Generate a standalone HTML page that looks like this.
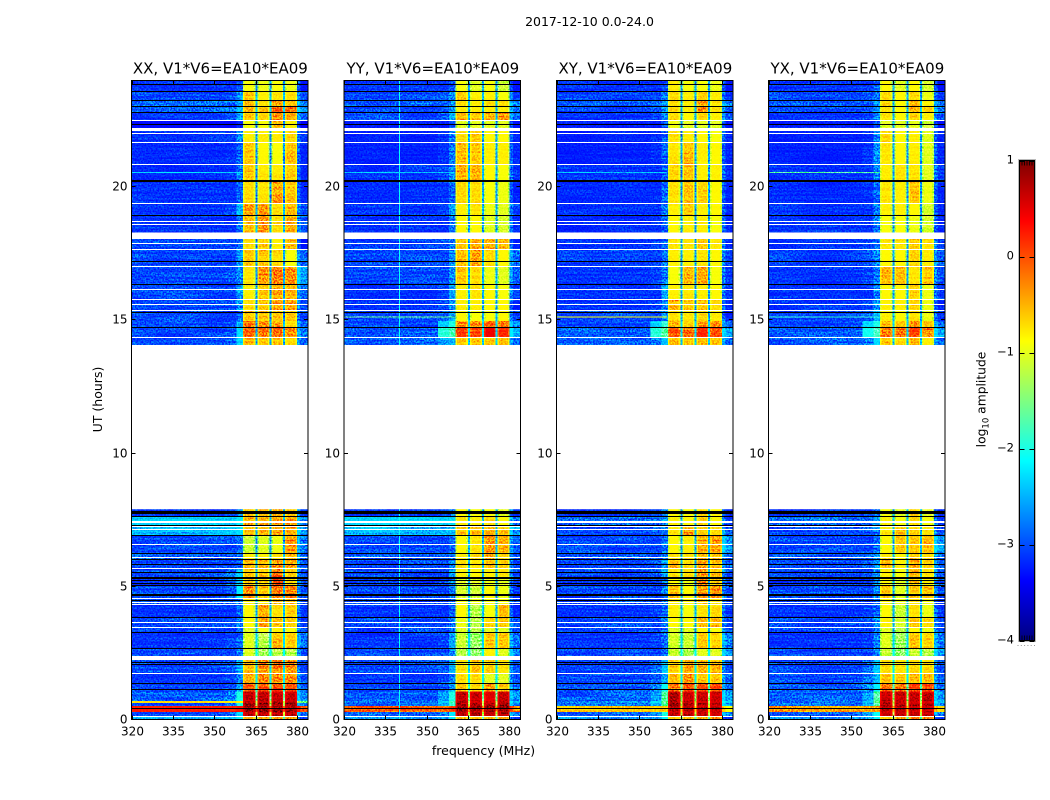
<!DOCTYPE html>
<html lang="en">
<head>
<meta charset="utf-8">
<title>2017-12-10 spectrogram</title>
<style>
html,body{margin:0;padding:0;background:#fff;}
#figure{display:block;width:1050px;height:800px;font-family:"DejaVu Sans","Liberation Sans",sans-serif;fill:#000;}
.tick-label{font-size:12px;}
.panel-title{font-size:15px;}
</style>
</head>
<body>
<svg id="figure" xmlns="http://www.w3.org/2000/svg" width="1050" height="800" viewBox="0 0 1050 800">
<defs>
<filter id="speckle" x="0" y="0" width="100%" height="100%" color-interpolation-filters="sRGB">
<feTurbulence type="fractalNoise" baseFrequency="0.62" numOctaves="1" seed="7"/>
<feColorMatrix type="matrix" values="3 0 0 0 -1  3 0 0 0 -1  3 0 0 0 -1  0 0 0 0 1"/>
</filter>
<filter id="streaks" x="0" y="0" width="100%" height="100%" color-interpolation-filters="sRGB">
<feTurbulence type="fractalNoise" baseFrequency="0.02 0.55" numOctaves="1" seed="11"/>
<feColorMatrix type="matrix" values="3 0 0 0 -1  3 0 0 0 -1  3 0 0 0 -1  0 0 0 0 1"/>
</filter>
</defs>
<text x="589.5" y="26" text-anchor="middle" font-size="12.5">2017-12-10 0.0-24.0</text>
<text transform="translate(102,399.5) rotate(-90)" text-anchor="middle" font-size="12.5">UT (hours)</text>
<text x="483.5" y="755" text-anchor="middle" font-size="12.5">frequency (MHz)</text>
<text transform="translate(985.5,399.5) rotate(-90)" text-anchor="middle" font-size="12.3">log<tspan font-size="8.5" dy="3">10</tspan><tspan dy="-3"> amplitude</tspan></text>
<g id="panels"></g>
<g id="colorbar"></g>
</svg>
<script>
var panelNames = ["XX, V1*V6=EA10*EA09","YY, V1*V6=EA10*EA09","XY, V1*V6=EA10*EA09","YX, V1*V6=EA10*EA09"];
var xTicks = [320,335,350,365,380];
var yTicks = [0,5,10,15,20];
var colorbarTicks = [1,0,-1,-2,-3,-4];
var tickText = {"1":"1","0":"0","-1":"\u22121","-2":"\u22122","-3":"\u22123","-4":"\u22124"};

// time spans (UT hours) of the averaged rows
var rowHours = [[24,23.58],[23.58,23.23],[23.23,22.99],[22.99,22.76],[22.76,22.47],[22.47,22.19],[22.09,21.66],[21.66,20.82],[20.82,20.23],[20.23,19.37],[19.37,18.92],[18.92,18.27],[18.04,17.64],[17.64,17],[17,16.33],[16.33,15.77],[15.77,15.36],[15.36,14.95],[14.95,14.7],[14.7,14.33],[14.33,14.05],[7.89,7.6],[7.6,7.27],[7.27,6.89],[6.89,6.26],[6.26,5.99],[5.99,5.68],[5.68,5.31],[5.31,5.01],[5.01,4.54],[4.54,4.32],[4.32,3.82],[3.82,3.45],[3.45,3.25],[3.25,2.67],[2.67,2.39],[2.24,1.74],[1.74,1.34],[1.34,1.05],[1.05,0.69],[0.69,0.61],[0.61,0.5],[0.5,0.28],[0.28,0.13],[0.13,0]];

// frequency channels (MHz), the value column each reads, and its bandpass gain (dex)
var channelRanges = [[320,354],[354,358],[358,360.4],[360.4,361],[361,364.3],[364.3,364.9],[364.9,365.6],[365.6,366.2],[366.2,369.5],[369.5,370],[370,370.7],[370.7,371.3],[371.3,374.5],[374.5,375],[375,375.7],[375.7,376.2],[376.2,379.5],[379.5,380],[380,381.2],[381.2,384]];
var channelColumn = [0,1,2,3,3,3,7,4,4,4,7,5,5,5,7,6,6,6,8,8];
var channelGain = [-0.03,-0.05,0,-0.3,0,-0.25,-0.3,-0.25,0,-0.25,-0.3,-0.25,0,-0.25,-0.3,-0.25,0,-0.25,0,-0.3];

// log10 amplitude per row: below-band A,B,C, band 1-4, band gaps, above-band
var valuesXX = [
[-3.1,-3.1,-3,-.9,-.95,-.9,-.95,-2.4,-3],[-3,-2.9,-2.6,-.6,-.8,-.7,-.7,-2.2,-2.7],[-2.8,-2.8,-2.5,-.55,-.7,-.3,-.5,-2.2,-2.5],[-2.9,-2.8,-2.5,-.5,-.6,-.1,-.15,-2,-2.3],[-3.1,-3,-2.6,-.6,-.7,-.4,-.5,-2.2,-2.6],[-3.3,-3.3,-3.2,-.9,-.9,-.55,-.8,-2.4,-3.1],[-3.1,-3.1,-2.8,-.8,-.8,-.8,-.7,-2.3,-2.8],[-3.15,-3.1,-2.9,-.6,-.85,-.9,-.55,-2.4,-2.9],[-3.15,-3.1,-2.8,-.6,-.75,-.75,-.6,-2.4,-2.9],[-3.1,-3.1,-2.9,-.7,-.75,-.45,-.6,-2.4,-2.9],[-3.1,-3,-2.5,-.4,-.35,-.7,-.5,-2.2,-2.7],[-3.1,-3.1,-2.8,-.55,-.3,-.7,-.45,-2.2,-2.7],[-3,-3,-2.9,-.7,-.6,-.8,-.5,-2.4,-3],[-3,-3,-2.6,-.6,-.6,-.7,-.9,-2.3,-2.6],[-3,-2.9,-2.7,-.75,-.35,-.2,-.3,-2.3,-2.3],[-3,-3,-2.6,-.8,-.6,-.45,-.5,-2.3,-2.6],[-3,-3,-2.7,-.7,-.6,-.4,-.4,-2.3,-2.7],[-3,-3,-2.8,-.6,-.6,-.6,-.6,-2.4,-2.8],[-3,-2.9,-2.5,-.15,-.3,-.35,-.7,-2.2,-2.6],[-3,-2.9,-2.3,-.1,-.2,-.1,-.3,-2.2,-2.5],[-3,-2.9,-2.3,-.5,-.6,-.6,-.7,-2.2,-2.6],
[-3.1,-3,-2.6,-.6,-.6,-.5,-.6,-2.2,-2.8],[-2.3,-2.3,-2.2,-.5,-.5,-.4,-.4,-2.2,-2.4],[-2.45,-2.4,-2.3,-.55,-.55,-.5,-.5,-2.2,-2.3],[-3,-3,-2.9,-1.1,-1,-.95,-.35,-2.3,-2.5],[-2.9,-2.9,-2.8,-.8,-.8,-.7,-.5,-2.2,-2.6],[-3,-3,-2.9,-.5,-.5,-.3,-.4,-2.2,-2.6],[-3,-2.8,-2.4,-.6,-.6,-.2,-.6,-2.2,-2.7],[-3.1,-2.9,-2.4,-.6,-.7,-.1,-.7,-2.2,-2.7],[-3,-2.9,-2.2,-.3,-.6,-.2,-.25,-2.2,-2.7],[-3,-3,-2.8,-.8,-.8,-.6,-.6,-2.2,-2.8],[-3.1,-3.1,-2.9,-.85,-.45,-.7,-.6,-2.2,-2.8],[-3,-3,-2.8,-.85,-.45,-.6,-.65,-2.2,-2.8],[-3,-3,-2.8,-1,-.9,-.8,-.9,-2.2,-2.7],[-3.1,-3,-2.9,-1,-1.2,-.5,-.6,-2,-2.5],[-3,-3,-2.8,-1,-1.3,-1.2,-1.2,-1.8,-2.7],[-3,-2.9,-2.5,-.55,-.35,-.3,-.35,-2,-2.8],[-3.1,-3,-2.8,-.45,-.25,-.25,-.25,-1.9,-2.7],[-3,-2.9,-2.5,-.05,0,.05,0,-1.7,-2.6],[-2.9,-2.7,-2,.7,.7,.65,.65,-1.3,-2.4],[-.7,-.7,-.8,.75,.7,.7,.7,-.8,-1.3],[-3,-2.7,-2,.85,.85,.85,.85,-1,-2.5],[.3,.3,.3,.85,.85,.85,.85,.3,.3],[-3,-2.8,-2.3,.7,.7,.7,.7,-.8,-2.5],[-2.4,-2.4,-2.2,-.5,-.4,-.4,-.4,-1.5,-2.8]];
var valuesYY = [
[-3.1,-3.1,-3,-.9,-1,-.9,-1.1,-2.3,-3],[-3,-2.9,-2.7,-.6,-.8,-.8,-.9,-2.2,-2.8],[-2.9,-2.9,-2.7,-.7,-.8,-.7,-.7,-2.2,-2.5],[-3,-2.9,-2.6,-.8,-.8,-.8,-.8,-2.2,-2.5],[-3,-2.9,-2.5,-.5,-.6,-.5,-.35,-2.2,-2.6],[-3.2,-3.2,-3,-1,-1,-1,-1,-2.4,-3],[-3.2,-3.1,-2.8,-.7,-.6,-.85,-.85,-2.3,-2.9],[-3.2,-3.1,-2.8,-.55,-.6,-.8,-.8,-2.3,-2.9],[-3.1,-3,-2.7,-.5,-.5,-.85,-.9,-2.2,-2.8],[-3.15,-3.1,-2.9,-.7,-.7,-.9,-.95,-2.3,-2.9],[-3.1,-3,-2.6,-.8,-.75,-.95,-1,-2.2,-2.8],[-3.1,-3.1,-2.8,-.85,-.85,-1,-1.05,-2.3,-2.9],[-3.05,-3,-2.8,-.6,-.45,-.45,-.55,-2.3,-2.9],[-3,-3,-2.7,-.55,-.4,-.7,-.85,-2.2,-2.5],[-3,-3,-2.7,-.6,-.7,-.95,-1,-2.2,-2.6],[-3.1,-3,-2.6,-.8,-.75,-.85,-.9,-2.2,-2.8],[-3.1,-3,-2.7,-.8,-.8,-.85,-.85,-2.3,-2.9],[-3,-2.9,-2.6,-.85,-.9,-.9,-.85,-2.2,-2.8],[-3,-2.3,-2,-.3,-.3,-.1,-.2,-2,-2.4],[-2.9,-1.9,-1.8,.1,.05,.45,.2,-2,-2.2],[-2.9,-2.6,-2.5,-.6,-.6,-.6,-.55,-2.1,-2.6],
[-3.1,-3,-2.8,-.85,-.9,-.9,-1,-2.2,-2.9],[-2.3,-2.3,-2.3,-.75,-.8,-.7,-.85,-2.2,-2.5],[-2.45,-2.4,-2.4,-.6,-.55,-.5,-.55,-2.2,-2.3],[-3,-3,-2.9,-.85,-.75,-.35,-.5,-2.2,-2.6],[-2.9,-2.9,-2.8,-.8,-.7,-.5,-.7,-2.2,-2.7],[-3,-3,-2.8,-.7,-.75,-.55,-.65,-2.2,-2.7],[-3,-3,-2.6,-.8,-.85,-.8,-.75,-2.2,-2.8],[-3.1,-3,-2.7,-1,-1,-.95,-1,-2.2,-2.8],[-3,-3,-2.8,-1.05,-1.1,-.85,-.95,-2.2,-2.8],[-3,-3,-2.9,-.9,-.95,-.9,-.9,-2.2,-2.8],[-3.1,-3.1,-2.9,-.85,-1.2,-.9,-.55,-2.2,-2.9],[-3,-3,-2.8,-.95,-1.2,-.65,-.6,-2.2,-2.7],[-3,-3,-2.8,-1,-1.2,-1,-1,-2.2,-2.7],[-3.1,-3,-2.6,-1.1,-1.35,-.6,-.6,-2,-2.5],[-3,-3,-2.7,-1.2,-1.4,-.8,-1,-1.8,-2.3],[-3,-2.9,-2.5,-.75,-.6,-.65,-.75,-2,-2.7],[-3.1,-3,-2.8,-.7,-.7,-1,-1,-1.9,-2.7],[-3,-2.9,-2.6,-.6,-.7,-.4,-.6,-1.6,-2.6],[-2.9,-2.5,-2,.7,.65,.5,.65,-1.3,-2.4],[-2.8,-2.3,-1.8,.75,.6,.6,.7,-.9,-2.2],[-2.9,-2.5,-1.9,.85,.85,.8,.85,-.9,-2.4],[0,0,.1,.85,.85,.85,.85,.1,0],[-2.9,-2.7,-2.2,.65,.7,.65,.7,-.9,-2.5],[-2.5,-2.5,-2.2,-.5,-.5,-.5,-.5,-1.5,-2.8]];
var valuesXY = [
[-3.1,-3.1,-3,-.8,-.9,-.9,-.95,-2.3,-3],[-3,-3,-2.8,-.7,-.8,-.65,-.8,-2.3,-2.8],[-2.9,-2.8,-2.6,-.7,-.8,-.4,-.75,-2.2,-2.5],[-3,-2.9,-2.6,-.7,-.8,-.3,-.75,-2.2,-2.6],[-3.1,-3,-2.7,-.7,-.85,-.7,-.8,-2.2,-2.7],[-3.2,-3.2,-3,-.95,-1,-1,-1,-2.4,-3],[-3.2,-3.1,-2.9,-.75,-.8,-.85,-.9,-2.4,-2.9],[-3.2,-3.1,-2.9,-.75,-.55,-.8,-.85,-2.3,-2.9],[-3.1,-3.1,-2.9,-.7,-.6,-.8,-.8,-2.4,-2.9],[-3.15,-3.1,-2.8,-.75,-.6,-.65,-.85,-2.3,-2.9],[-3.1,-3.1,-2.8,-.8,-.6,-.8,-.85,-2.3,-2.9],[-3.15,-3.1,-2.9,-.85,-.8,-.8,-.9,-2.3,-2.9],[-3.1,-3,-2.9,-.75,-.75,-.6,-.75,-2.3,-2.9],[-3.05,-3,-2.8,-.8,-.8,-.75,-.85,-2.3,-2.7],[-3.1,-3,-2.8,-.9,-.5,-.45,-.9,-2.3,-2.8],[-3.1,-3.1,-2.6,-.8,-.75,-.8,-.85,-2.3,-2.8],[-3.1,-3,-2.7,-.5,-.6,-.6,-.7,-2.3,-2.9],[-3,-3,-2.7,-.7,-.75,-.7,-.8,-2.3,-2.9],[-3,-2.3,-1.9,-.4,-.6,-.35,-.35,-2,-2.5],[-2.9,-1.9,-1.7,-.05,-.15,.2,.05,-2,-2.3],[-2.9,-2.7,-2.4,-.55,-.6,-.5,-.5,-2.1,-2.7],
[-3.1,-3,-2.8,-.85,-.9,-.7,-.85,-2.2,-2.9],[-2.8,-2.8,-2.6,-.8,-.85,-.65,-.85,-2.2,-2.8],[-3,-2.9,-2.8,-.75,-.4,-.6,-.65,-2.2,-2.7],[-3,-3,-2.8,-.85,-.8,-.5,-.4,-2.2,-2.3],[-2.9,-2.9,-2.7,-.75,-.75,-.6,-.6,-2.2,-2.6],[-3,-2.9,-2.6,-.5,-.7,-.4,-.55,-2.2,-2.6],[-3,-2.9,-2.5,-.75,-.75,-.35,-.55,-2.2,-2.7],[-3.1,-3,-2.7,-.85,-.95,-.3,-.6,-2.2,-2.7],[-3,-3,-2.7,-.55,-.85,-.4,-.35,-2.2,-2.7],[-3,-3,-2.8,-.8,-.85,-.6,-.75,-2.2,-2.8],[-3.1,-3,-2.9,-.8,-.9,-.75,-.7,-2.2,-2.8],[-3,-3,-2.7,-.85,-.85,-.55,-.55,-2.2,-2.7],[-3,-3,-2.8,-1,-1,-.85,-.9,-2.2,-2.7],[-3.1,-3,-2.8,-1.05,-1.1,-.6,-.65,-2,-2.5],[-3,-3,-2.8,-1.1,-1.25,-1,-1,-1.8,-2.3],[-3,-2.8,-2.4,-.65,-.45,-.5,-.5,-1.9,-2.7],[-3,-2.9,-2.6,-.5,-.3,-.6,-.6,-1.9,-2.6],[-2.9,-2.7,-2.1,-.1,.05,0,0,-1.5,-2.5],[-2.9,-2.5,-1.7,.7,.6,.65,.65,-1.1,-2.3],[-2.7,-2.2,-1.6,.75,.65,.65,.65,-.9,-2.1],[-2.8,-2.4,-1.7,.8,.75,.75,.75,-.9,-2.3],[-.6,-.6,-.6,.7,.7,.7,.7,-.4,-.6],[-2.9,-2.6,-2,.65,.65,.65,.6,-.9,-2.5],[-2.6,-2.6,-2.2,-.45,-.4,-.45,-.45,-1.5,-2.8]];
var valuesYX = [
[-3.1,-3.1,-3,-.85,-1,-.85,-1.05,-2.3,-3],[-3,-2.9,-2.8,-.7,-.85,-.7,-.95,-2.3,-2.8],[-2.9,-2.9,-2.6,-.7,-.85,-.45,-.8,-2.2,-2.6],[-3,-2.9,-2.6,-.75,-.85,-.4,-.55,-2.2,-2.5],[-3.1,-3,-2.7,-.75,-.85,-.65,-.8,-2.2,-2.7],[-3.2,-3.2,-3,-1,-1,-1,-1.1,-2.4,-3],[-3.2,-3.1,-2.7,-.7,-.85,-.8,-1,-2.3,-2.9],[-3.2,-3.1,-2.7,-.75,-.85,-.8,-1,-2.3,-2.9],[-3.1,-3.05,-2.7,-.8,-.75,-.75,-1,-2.2,-2.8],[-3.15,-3.1,-2.9,-.75,-.8,-.6,-.95,-2.3,-2.9],[-3.1,-3.1,-2.8,-.8,-.8,-.85,-1.05,-2.3,-2.9],[-3.1,-3.1,-2.8,-.9,-.9,-.95,-1.05,-2.3,-2.9],[-3.1,-3,-2.9,-.75,-.75,-.6,-.7,-2.3,-2.8],[-3.05,-3,-2.8,-.85,-.85,-.7,-.8,-2.3,-2.6],[-3.1,-3,-2.8,-.5,-.55,-.75,-.6,-2.3,-2.7],[-3.1,-3.05,-2.7,-.85,-.85,-.65,-.95,-2.2,-2.8],[-3.1,-3,-2.7,-.8,-.8,-.7,-.95,-2.3,-2.9],[-3,-2.9,-2.5,-.8,-.85,-.75,-.95,-2.2,-2.8],[-3,-2.3,-2,-.5,-.6,-.35,-.6,-2,-2.5],[-2.9,-2,-1.8,-.15,-.2,.05,-.3,-2,-2.3],[-2.9,-2.7,-2.3,-.6,-.7,-.55,-.8,-2.1,-2.6],
[-3.1,-3,-2.8,-.9,-1,-.65,-1,-2.2,-2.9],[-2.8,-2.8,-2.6,-.8,-.9,-.7,-.9,-2.2,-2.8],[-3,-2.9,-2.8,-.75,-.55,-.65,-.75,-2.2,-2.7],[-3,-3,-2.8,-.85,-.6,-.6,-.5,-2.2,-2.3],[-2.9,-2.9,-2.7,-.75,-.85,-.65,-.7,-2.2,-2.6],[-3,-2.9,-2.6,-.5,-.8,-.45,-.65,-2.2,-2.6],[-3,-2.9,-2.6,-.8,-.9,-.45,-.7,-2.2,-2.7],[-3.1,-3,-2.6,-.85,-1,-.55,-.8,-2.2,-2.7],[-3,-3,-2.7,-.6,-1,-.6,-.55,-2.2,-2.7],[-3,-3,-2.8,-.85,-.95,-.75,-.9,-2.2,-2.8],[-3.1,-3,-2.9,-.85,-1.1,-.75,-.95,-2.2,-2.8],[-3,-3,-2.7,-.8,-1.05,-.6,-.7,-2.2,-2.7],[-3,-3,-2.8,-1,-1.2,-.85,-.95,-2.2,-2.7],[-3.1,-3,-2.7,-1,-1.3,-.55,-.65,-2,-2.5],[-3,-3,-2.7,-1.1,-1.4,-1.1,-1.2,-1.8,-2.3],[-3,-2.8,-2.4,-.7,-.75,-.7,-.7,-1.9,-2.7],[-3,-2.8,-2.5,-.55,-.6,-.55,-.55,-1.9,-2.6],[-2.9,-2.7,-2.2,-.1,-.2,0,-.05,-1.5,-2.5],[-2.9,-2.5,-1.7,.65,.65,.6,.65,-1.1,-2.3],[-2.8,-2.3,-1.6,.7,.65,.6,.65,-.9,-2.2],[-2.8,-2.4,-1.7,.8,.75,.75,.75,-.9,-2.3],[-.4,-.4,-.4,.7,.7,.7,.7,-.3,-.4],[-2.9,-2.6,-2.1,.65,.65,.65,.65,-.9,-2.5],[-2.6,-2.6,-2.2,-.5,-.4,-.4,-.4,-1.5,-2.8]];
var panelValues = [valuesXX,valuesYY,valuesXY,valuesYX];

// integrations flagged out: blank (white) and zero-amplitude (black)
var blankHours = [[22.485,22.455],[22.19,22.09],[22.025,21.995],[21.675,21.645],[20.835,20.805],[19.385,19.355],[18.705,18.675],[18.595,18.565],[18.27,18.04],[17.885,17.855],[17.655,17.625],[17.015,16.985],[16.155,16.125],[15.785,15.755],[15.585,15.555],[15.375,15.345],[14.345,14.315],[7.45,7.36],[7.255,7.225],[7.165,7.135],[6.585,6.555],[6.105,6.075],[5.695,5.665],[4.555,4.525],[4.425,4.395],[4.335,4.305],[3.675,3.645],[3.465,3.435],[2.39,2.24],[1.755,1.725],[0.125,0.095]];
var zeroHours = [[23.85,23.81],[23.6,23.55],[23.25,23.21],[23.01,22.97],[22.785,22.735],[22.34,22.29],[20.24,20.17],[18.94,18.9],[17.21,17.17],[16.35,16.31],[15.3,15.26],[14.73,14.69],[7.82,7.72],[7.62,7.58],[7.29,7.25],[6.91,6.87],[6.26,6.21],[6.01,5.97],[5.82,5.78],[5.52,5.48],[5.34,5.28],[5.23,5.19],[5.12,5.08],[5.03,4.98],[4.7,4.61],[4.47,4.43],[3.84,3.8],[3.27,3.23],[2.69,2.65],[2.16,2.12],[2.1,2.06],[1.36,1.32],[1.16,1.12],[0.425,0.385]];

// narrowband interference: hours, and the amplitude in each polarisation
var spikeHours = [20.53,15.11];
var spikeValues = [[-2.3,-3],[-2.4,-1.6],[-2.4,-0.9],[-1.7,-1.9]];
var rfiFrequency = [null,340,null,null];
var rfiValue = -2.1;

var panelLefts = [131.5,344,556.5,768.5];
var panelWidth = 176.5;
var plotTop = 80.5, plotBottom = 719.5;
var pixelsPerHour = 26.65;
var NS = "http://www.w3.org/2000/svg";

function yScale(h){ return Math.max(plotTop,plotBottom-pixelsPerHour*h); }
function xScale(left,f){ return left+panelWidth*(f-320)/64; }
function jet(v){
  var t=Math.max(0,Math.min(1,(v+4)/5));
  function ramp(c){ return Math.max(0,Math.min(1,1.5-Math.abs(4*t-c))); }
  return "rgb("+Math.round(255*ramp(3))+","+Math.round(255*ramp(2))+","+Math.round(255*ramp(1))+")";
}
function make(tag,attrs,parent){
  var el=document.createElementNS(NS,tag);
  for(var k in attrs){ el.setAttribute(k,attrs[k]); }
  parent.appendChild(el);
  return el;
}

var panelsRoot=document.getElementById("panels");
panelNames.forEach(function(name,p){
  var left=panelLefts[p], right=left+panelWidth;
  var g=make("g",{},panelsRoot);
  
  
  var title=make("text",{x:left+panelWidth/2+0.6,y:73.5,"text-anchor":"middle","class":"panel-title"},g);
  
  
  title.textContent=name;
  var heat=make("g",{"shape-rendering":"crispEdges",style:"isolation:isolate"},g);
  
  
  make("rect",{x:left,y:plotTop,width:panelWidth,height:plotBottom-plotTop,fill:"#fff"},heat);
  rowHours.forEach(function(span,r){
    channelRanges.forEach(function(ch,c){
      var x0=xScale(left,ch[0]), x1=xScale(left,ch[1]);
      var y0=yScale(span[0]), y1=yScale(span[1]);
      var cell=make("rect",{x:x0,y:y0,width:x1-x0,height:y1-y0,fill:jet(panelValues[p][r][channelColumn[c]]+channelGain[c])},heat);
      
      
    });
    if(rfiFrequency[p]!==null){
      var fx=xScale(left,rfiFrequency[p]);
      var rfi=make("rect",{x:fx,y:yScale(span[0]),width:1,height:yScale(span[1])-yScale(span[0]),fill:jet(rfiValue)},heat);
      
      
    }
  });
  spikeHours.forEach(function(h,i){
    var sp=make("rect",{x:left,y:yScale(h)-0.5,width:xScale(left,360)-left,height:1,fill:jet(spikeValues[p][i])},heat);
    
    
  });
  var noise=make("rect",{x:left,y:plotTop,width:panelWidth,height:plotBottom-plotTop,filter:"url(#speckle)",style:"mix-blend-mode:overlay",opacity:0.8},heat);
  
  
  var streak=make("rect",{x:left,y:plotTop,width:panelWidth,height:plotBottom-plotTop,filter:"url(#streaks)",style:"mix-blend-mode:overlay",opacity:0.4},heat);
  
  
  make("rect",{x:left,y:yScale(14.05),width:panelWidth,height:yScale(7.89)-yScale(14.05),fill:"#fff"},g);
  blankHours.forEach(function(s){
    var b=make("rect",{x:left,y:Math.round(yScale(s[0])),width:panelWidth,height:Math.max(1,Math.round(yScale(s[1])-yScale(s[0]))),fill:"#fff","shape-rendering":"crispEdges"},g);
    
    
  });
  zeroHours.forEach(function(s){
    var z=make("rect",{x:left,y:Math.round(yScale(s[0])),width:panelWidth,height:Math.max(1,Math.round(yScale(s[1])-yScale(s[0]))),fill:"#000","shape-rendering":"crispEdges"},g);
    
    
  });
  var frame=make("rect",{x:left,y:plotTop,width:panelWidth,height:plotBottom-plotTop,fill:"none",stroke:"#000","stroke-width":1,"shape-rendering":"crispEdges"},g);
  
  
  xTicks.forEach(function(f){
    var x=Math.round(xScale(left,f))+0.5;
    [[plotBottom,plotBottom-4],[plotTop,plotTop+4]].forEach(function(e){
      var t=make("line",{x1:x,x2:x,y1:e[0],y2:e[1],stroke:"#000","shape-rendering":"crispEdges"},g);
      
      
    });
    var lab=make("text",{x:x,y:plotBottom+16,"text-anchor":"middle","class":"tick-label"},g);
    
    
    lab.textContent=String(f);
  });
  yTicks.forEach(function(h){
    var y=Math.floor(yScale(h))+0.5;
    [[left,left+4],[right,right-4]].forEach(function(e){
      var t=make("line",{x1:e[0],x2:e[1],y1:y,y2:y,stroke:"#000","shape-rendering":"crispEdges"},g);
      
      
    });
    var lab=make("text",{x:left-4,y:y+4,"text-anchor":"end","class":"tick-label"},g);
    
    
    lab.textContent=String(h);
  });
});

var cbRoot=document.getElementById("colorbar");


var cbLeft=1019.5, cbRight=1034.5, cbTop=160.5, cbBottom=640.5;
function cbScale(v){ return cbBottom-(cbBottom-cbTop)*(v+4)/5; }
for(var py=cbTop;py<cbBottom;py+=2){
  var v=-4+5*(cbBottom-py-1)/(cbBottom-cbTop);
  make("rect",{x:cbLeft,y:py,width:cbRight-cbLeft,height:2.2,fill:jet(v),"shape-rendering":"crispEdges"},cbRoot);
}
var cbEdge=make("rect",{x:cbLeft,y:cbTop,width:cbRight-cbLeft,height:cbBottom-cbTop,fill:"none",stroke:"#000","shape-rendering":"crispEdges"},cbRoot);


make("rect",{x:cbLeft-1,y:cbTop-1,width:cbRight-cbLeft+2,height:cbBottom-cbTop+2,fill:"none",stroke:"#bbb","shape-rendering":"crispEdges"},cbRoot);
colorbarTicks.forEach(function(v){
  var y=Math.round(cbScale(v))+0.5;
  [[cbLeft,cbLeft+5],[cbRight,cbRight-5]].forEach(function(e){
    var t=make("line",{x1:e[0],x2:e[1],y1:y,y2:y,stroke:"#000","shape-rendering":"crispEdges"},cbRoot);
    
    
  });
  var lab=make("text",{x:1014,y:y+2,"text-anchor":"end","class":"tick-label",style:"font-size:11.5px"},cbRoot);
  
  
  lab.textContent=tickText[String(v)];
});
[0,1,2,3,4,5].forEach(function(i){
  var x=cbLeft+2.5*i;
  make("line",{x1:x,x2:x,y1:cbTop,y2:cbTop+5,stroke:"#000","stroke-width":0.8},cbRoot);
  make("line",{x1:x,x2:x,y1:cbBottom,y2:cbBottom-5,stroke:"#000","stroke-width":0.8},cbRoot);
  make("rect",{x:cbLeft-2+3.3*i,y:645,width:1,height:1,fill:"#999"},cbRoot);
});
</script>
</body>
</html>
